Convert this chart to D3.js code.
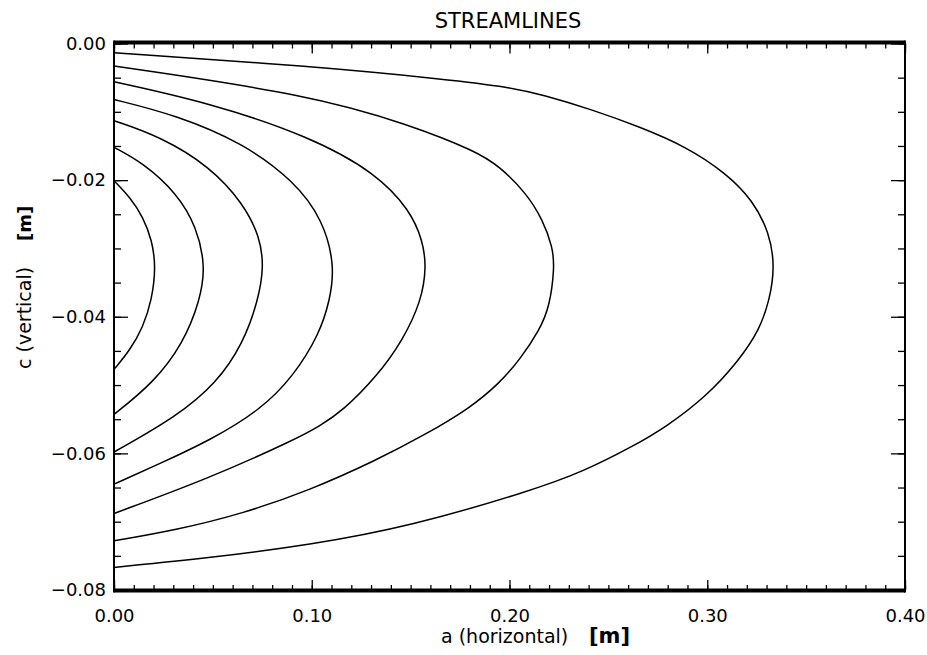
<!DOCTYPE html>
<html>
<head>
<meta charset="utf-8">
<script src="https://cdn.jsdelivr.net/npm/d3@7"></script>
<style>
  body { margin: 0; background: white; }
  text { font-family: "DejaVu Sans", sans-serif; fill: black; }
</style>
</head>
<body>
<div id="container"></div>
<script>
// streamlines, [a, c] in metres, top end -> nose -> bottom end
let line1 = [[0,-0.0201],[0.0081,-0.0225],[0.0147,-0.0254],[0.0192,-0.0288],[0.0212,-0.0327],
  [0.0191,-0.0376],[0.0147,-0.0415],[0.0081,-0.0449],[0,-0.0477]];
let line2 = [[0,-0.0152],[0.0148,-0.0175],[0.0317,-0.0219],[0.0418,-0.0268],[0.0463,-0.0327],
  [0.0435,-0.0376],[0.0350,-0.0439],[0.0199,-0.0497],[0,-0.0543]];
let line3 = [[0,-0.0113],[0.0232,-0.0136],[0.0485,-0.0180],[0.0653,-0.0234],[0.0738,-0.0283],
  [0.0758,-0.0327],[0.0729,-0.0376],[0.0653,-0.0439],[0.0519,-0.0497],[0.0317,-0.0546],[0,-0.0598]];
let line4 = [[0,-0.0082],[0.0317,-0.0105],[0.0653,-0.0146],[0.0906,-0.0200],[0.1058,-0.0258],
  [0.1117,-0.0327],[0.1091,-0.0376],[0.1041,-0.0424],[0.0906,-0.0488],[0.0738,-0.0537],
  [0.0485,-0.0581],[0.0232,-0.0615],[0,-0.0645]];
let line5 = [[0,-0.0056],[0.0485,-0.0087],[0.0990,-0.0136],[0.1327,-0.0190],[0.1496,-0.0244],
  [0.1561,-0.0288],[0.1580,-0.0327],[0.1555,-0.0376],[0.1462,-0.0434],[0.1327,-0.0488],
  [0.1159,-0.0537],[0.1041,-0.0560],[0.0906,-0.0581],[0.0485,-0.0636],[0,-0.0688]];
let line6 = [[0,-0.0033],[0.0990,-0.0075],[0.1496,-0.0119],[0.1833,-0.0158],[0.1950,-0.0180],
  [0.2085,-0.0219],[0.2168,-0.0258],[0.2218,-0.0298],[0.2228,-0.0327],[0.2203,-0.0385],
  [0.2153,-0.0419],[0.2052,-0.0463],[0.1950,-0.0497],[0.1799,-0.0534],[0.1571,-0.0573],
  [0.1327,-0.0610],[0.0990,-0.0654],[0.0653,-0.0688],[0.0317,-0.0712],[0,-0.0728]];
let line7 = [[0,-0.00135],[0.0990,-0.0033],[0.1698,-0.0053],[0.2001,-0.0064],[0.2168,-0.0075],
  [0.2420,-0.0097],[0.2658,-0.0122],[0.2894,-0.0151],[0.3096,-0.0190],[0.3229,-0.0229],
  [0.3315,-0.0277],[0.3342,-0.0327],[0.3315,-0.0376],[0.3264,-0.0419],[0.3163,-0.0463],
  [0.2995,-0.0517],[0.2793,-0.0561],[0.2623,-0.0590],[0.2370,-0.0627],[0.2117,-0.0654],
  [0.1496,-0.0707],[0.0990,-0.0734],[0.0485,-0.0753],[0,-0.0767]];
let streamlines = [line1, line2, line3, line4, line5, line6, line7];

let xTicks = [0, 0.1, 0.2, 0.3, 0.4];
let yTicks = [0, -0.02, -0.04, -0.06, -0.08];
let xMinor = d3.range(0, 0.4001, 0.01);
let yMinor = d3.range(0, -0.0801, -0.005);

let w = 927;
let h = 655;
let mLeft = 114, mRight = 905, mTop = 43.5, mBottom = 590;

let svg = d3.select("#container").append("svg")
    .attr("width", w)
    .attr("height", h)
    .style("background-color", "white");

let x = d3.scaleLinear().domain([0, 0.4]).range([mLeft, mRight]);
let y = d3.scaleLinear().domain([0, -0.08]).range([mTop, mBottom]);
let fmt = d3.format(".2f");

function styleAxis(g) {
  g.select(".domain").remove();
  g.selectAll("line").attr("stroke", "black").attr("stroke-width", 1.3);
  g.selectAll("text").style("font-size", "18px").attr("fill", "black");
}

// bottom axis, ticks inside
svg.append("g").attr("transform", `translate(0,${mBottom})`)
  .call(d3.axisBottom(x).tickValues(xMinor).tickSizeInner(-5).tickFormat(""))
  .call(styleAxis);
svg.append("g").attr("transform", `translate(0,${mBottom})`)
  .call(d3.axisBottom(x).tickValues(xTicks).tickSizeInner(-10).tickPadding(19).tickFormat(fmt))
  .call(styleAxis);
// top axis
svg.append("g").attr("transform", `translate(0,${mTop})`)
  .call(d3.axisTop(x).tickValues(xMinor).tickSizeInner(-5).tickFormat(""))
  .call(styleAxis);
svg.append("g").attr("transform", `translate(0,${mTop})`)
  .call(d3.axisTop(x).tickValues(xTicks).tickSizeInner(-10).tickFormat(""))
  .call(styleAxis);
// left axis
svg.append("g").attr("transform", `translate(${mLeft},0)`)
  .call(d3.axisLeft(y).tickValues(yMinor).tickSizeInner(-7).tickFormat(""))
  .call(styleAxis);
svg.append("g").attr("transform", `translate(${mLeft},0)`)
  .call(d3.axisLeft(y).tickValues(yTicks).tickSizeInner(-14).tickPadding(8).tickFormat(fmt))
  .call(styleAxis);
// right axis
svg.append("g").attr("transform", `translate(${mRight},0)`)
  .call(d3.axisRight(y).tickValues(yMinor).tickSizeInner(-7).tickFormat(""))
  .call(styleAxis);
svg.append("g").attr("transform", `translate(${mRight},0)`)
  .call(d3.axisRight(y).tickValues(yTicks).tickSizeInner(-14).tickFormat(""))
  .call(styleAxis);

// frame, top and bottom drawn heavier like the original
svg.append("line").attr("x1", mLeft).attr("x2", mRight).attr("y1", mTop - 1).attr("y2", mTop - 1)
  .attr("stroke", "black").attr("stroke-width", 4);
svg.append("line").attr("x1", mLeft).attr("x2", mRight).attr("y1", mBottom + 0.5).attr("y2", mBottom + 0.5)
  .attr("stroke", "black").attr("stroke-width", 4);
svg.append("line").attr("x1", mLeft).attr("x2", mLeft).attr("y1", mTop - 3).attr("y2", mBottom + 2.5)
  .attr("stroke", "black").attr("stroke-width", 2);
svg.append("line").attr("x1", mRight).attr("x2", mRight).attr("y1", mTop - 3).attr("y2", mBottom + 2.5)
  .attr("stroke", "black").attr("stroke-width", 2);

let lineMaker = d3.line()
  .x(d => x(d[0]))
  .y(d => y(d[1]))
  .curve(d3.curveBasis);

svg.selectAll(".stream").data(streamlines).enter()
  .append("path")
    .attr("class", "stream")
    .attr("d", lineMaker)
    .attr("fill", "none")
    .attr("stroke", "black")
    .attr("stroke-width", 1.5);

// titles
svg.append("text").attr("x", 508).attr("y", 28).attr("text-anchor", "middle")
  .style("font-size", "21px").text("STREAMLINES");

let xt = svg.append("text").attr("x", 441).attr("y", 643)
  .style("font-size", "19px");
xt.append("tspan").text("a (horizontal)");
xt.append("tspan").attr("x", 589).style("font-weight", "bold").style("font-size", "21px").text("[m]");

let yt = svg.append("text").attr("transform", "translate(31,369) rotate(-90)")
  .style("font-size", "19px");
yt.append("tspan").text("c (vertical)");
yt.append("tspan").attr("x", 128).style("font-weight", "bold").style("font-size", "18px").text("[m]");
</script>
</body>
</html>
